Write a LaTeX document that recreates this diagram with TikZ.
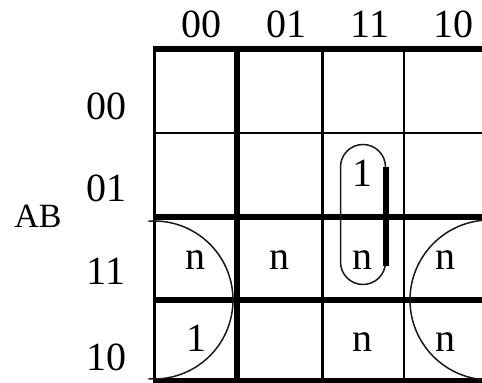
\documentclass[tikz,border=0pt]{standalone}
\usepackage{fontspec}
\setmainfont{Liberation Serif}
\usetikzlibrary{positioning}
\tikzset{
  thk/.style={line width=2.8pt},
  thn/.style={line width=1.4pt},
  lbl/.style={font=\fontsize{20}{24}\selectfont, inner sep=0pt},
  grp/.style={line width=0.75pt, draw=black!90},
}

\begin{document}
\begin{tikzpicture}[x=0.5pt,y=-0.5pt]
\useasboundingbox (0,0) rectangle (482,383);

% Grid rows and columns
\foreach \y/\s in {49/thk,133/thn,217/thk,300/thk,381/thk}
  \draw[\s] (153,\y) -- (492,\y);
\foreach \x/\s in {154.5/thn,237/thk,322.5/thn,404/thn,488/thn}
  \draw[\s] (\x,47) -- (\x,383);

% Column headers (CD)
\foreach \lab/\x in {00/201,01/286,11/370,10/453}
  \node[lbl] (col\lab) at (\x,24) {\lab};

% Row headers (AB)
\foreach \lab/\y in {00/106,01/188,11/271,10/357}
  \node[lbl] (row\lab) at (106,\y) {\lab};
\node[lbl, font=\fontsize{17}{20}\selectfont] (ab) at (38,216) {AB};

% Cell entries
\foreach \nm/\x/\y/\t in {
  c0111/362/173/1, c1100/195/260/n, c1101/279/260/n, c1111/362/260/n,
  c1110/445/260/n, c1000/196/338/1, c1011/362/342/n, c1010/445/342/n} {
  \node[lbl] (\nm) at (\x,\y) {\t};
}

% Groupings
\draw[grp] (340.5,167) -- (340.5,262) arc[start angle=180, end angle=0, radius=22.5]
  -- (385.5,167) arc[start angle=360, end angle=180, radius=22.5];
\draw[line width=3pt] (385.5,167) -- (385.5,266);
\draw[grp] (154,300) ++(-94:79) arc[start angle=-94, end angle=94, radius=79];
\draw[grp] (490,300) ++(270:80) arc[start angle=270, end angle=90, radius=80];

\end{tikzpicture}
\end{document}
